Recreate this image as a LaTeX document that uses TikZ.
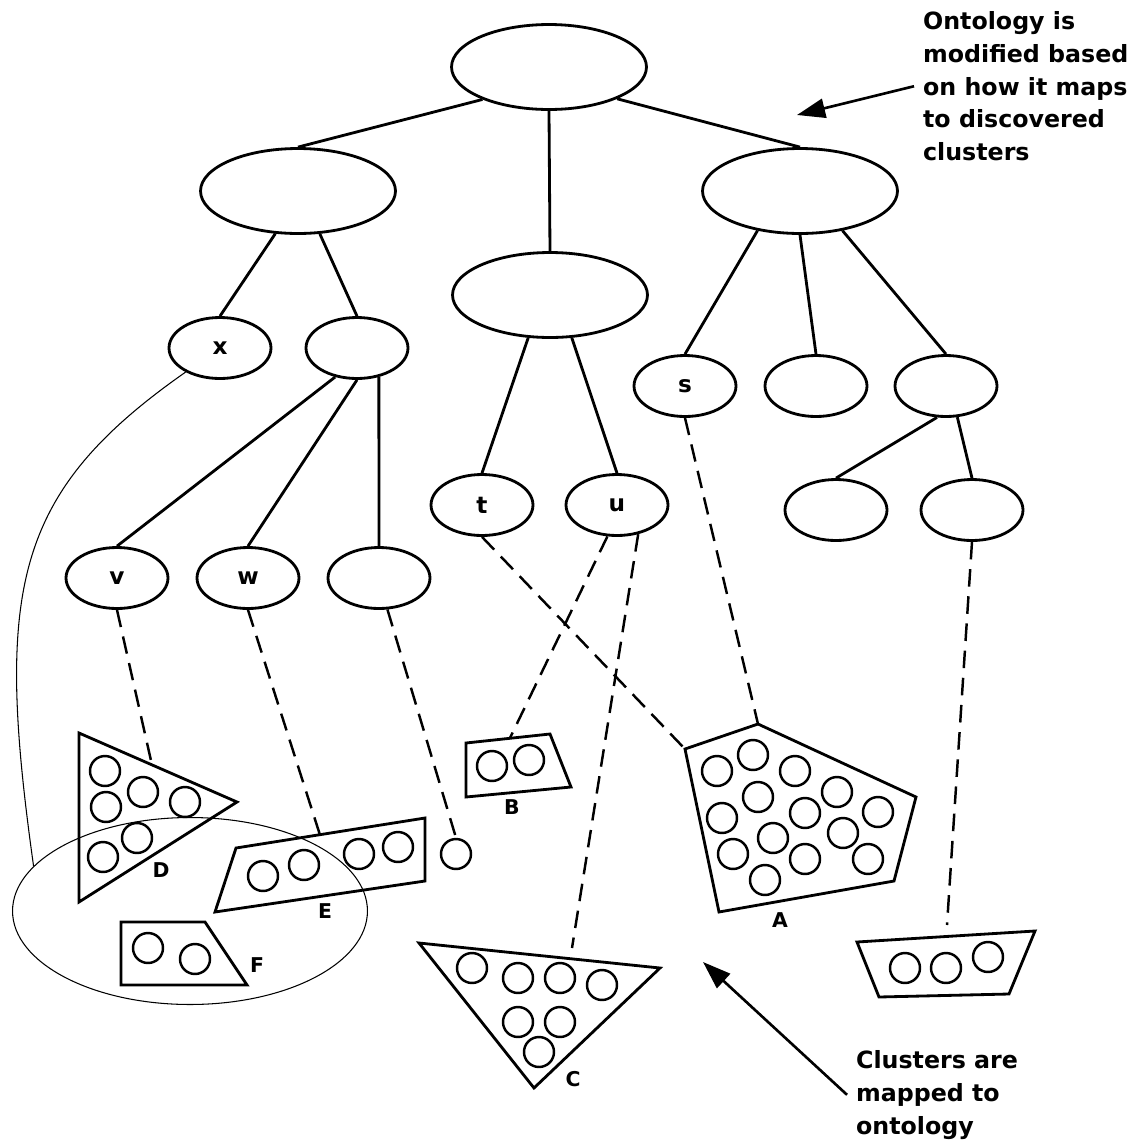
\documentclass[tikz,border=0pt]{standalone}
\usepackage{fontspec}
\setmainfont{DejaVu Sans}
\usetikzlibrary{arrows.meta,shapes.geometric}

\begin{document}
\begin{tikzpicture}[
        x=0.02cm,
        y=-0.02cm,
        concept/.style={
            ellipse,
            draw,
            line width=1.6pt,
            inner sep=0pt,
            minimum width=3.9cm,
            minimum height=1.7cm
        },
        term/.style={
            ellipse,
            draw,
            line width=1.6pt,
            inner sep=0pt,
            minimum width=2.04cm,
            minimum height=1.22cm,
            font=\fontsize{13.2}{15}\selectfont\bfseries
        },
        member/.style={
            circle,
            draw,
            line width=1.4pt,
            inner sep=0pt,
            minimum size=0.6cm
        },
        tag/.style={
            inner sep=0pt,
            font=\fontsize{11.6}{13}\selectfont\bfseries
        },
        note/.style={
            align=left,
            anchor=north west,
            inner xsep=5pt,
            inner ysep=0pt,
            font=\fontsize{13.5}{18.7}\selectfont\bfseries
        },
        link/.style={
            line width=1.6pt
        },
        map/.style={
            line width=1.4pt,
            dash pattern=on 10pt off 5.5pt
        },
        cluster/.style={
            draw,
            line width=1.6pt
        },
        pointer/.style={
            -{Triangle[length=16pt,width=11pt]},
            line width=1.5pt
        },
        thinline/.style={
            line width=0.6pt
        }
    ]

        \useasboundingbox (0,0) rectangle (1135,1147);

        \node[concept] (root) at (549,67) {};
        \node[concept] (left) at (298,191) {};
        \node[concept] (mid) at (550,295) {};
        \node[concept] (right) at (800,191) {};

        \node[term] (x) at (220,348) {x};
        \node[term] (lsub) at (357,348) {};
        \node[term] (t) at (482,505) {t};
        \node[term] (u) at (617,505) {u};
        \node[term] (s) at (685,386) {s};
        \node[term] (rmid) at (816,386) {};
        \node[term] (rsub) at (946,386) {};
        \node[term] (rsubl) at (836,510) {};
        \node[term] (rsubr) at (972,510) {};
        \node[term] (v) at (117,578) {v};
        \node[term] (w) at (248,578) {w};
        \node[term] (lsubr) at (379,578) {};

        \draw[link] (root.-154) -- (left.north);
        \draw[link] (root.south) -- (mid.north);
        \draw[link] (root.-25) -- (right.north);
        \draw[link] (left.-118) -- (x.north);
        \draw[link] (left.-63) -- (lsub.north);
        \draw[link] (lsub.-127) -- (v.north);
        \draw[link] (lsub.south) -- (w.north);
        \draw[link] (lsub.-53) -- (lsubr.north);
        \draw[link] (mid.-117) -- (t.north);
        \draw[link] (mid.-63) -- (u.north);
        \draw[link] (right.-137) -- (s.north);
        \draw[link] (right.south) -- (rmid.north);
        \draw[link] (right.-43) -- (rsub.north);
        \draw[link] (rsub.-106) -- (rsubl.north);
        \draw[link] (rsub.-70) -- (rsubr.north);

        \coordinate (D1) at (79,733);
        \coordinate (D2) at (237,802);
        \coordinate (D3) at (79,902);
        \coordinate (E1) at (236,848);
        \coordinate (E2) at (425,818);
        \coordinate (E3) at (425,881);
        \coordinate (E4) at (215,912);
        \coordinate (F1) at (121,922);
        \coordinate (F2) at (205,922);
        \coordinate (F3) at (247,985);
        \coordinate (F4) at (121,985);
        \coordinate (B1) at (466,743);
        \coordinate (B2) at (550,734);
        \coordinate (B3) at (571,787);
        \coordinate (B4) at (466,797);
        \coordinate (A1) at (685,749);
        \coordinate (A2) at (758,724);
        \coordinate (A3) at (916,797);
        \coordinate (A4) at (894,881);
        \coordinate (A5) at (719,912);
        \coordinate (C1) at (419,943);
        \coordinate (C2) at (660,968);
        \coordinate (C3) at (534,1088);
        \coordinate (R1) at (857,942);
        \coordinate (R2) at (1035,931);
        \coordinate (R3) at (1009,994);
        \coordinate (R4) at (879,997);

        \draw[cluster] (D1) -- (D2) -- (D3) -- cycle;
        \draw[cluster] (E1) -- (E2) -- (E3) -- (E4) -- cycle;
        \draw[cluster] (F1) -- (F2) -- (F3) -- (F4) -- cycle;
        \draw[cluster] (B1) -- (B2) -- (B3) -- (B4) -- cycle;
        \draw[cluster] (A1) -- (A2) -- (A3) -- (A4) -- (A5) -- cycle;
        \draw[cluster] (C1) -- (C2) -- (C3) -- cycle;
        \draw[cluster] (R1) -- (R2) -- (R3) -- (R4) -- cycle;

        \foreach \px/\py [count=\i] in {105/771, 143/792, 185/802, 106/807, 137/838, 103/857}
            \node[member] (d\i) at (\px,\py) {};
        \foreach \px/\py [count=\i] in {263/876, 304/865, 359/854, 398/847}
            \node[member] (e\i) at (\px,\py) {};
        \foreach \px/\py [count=\i] in {148/948, 195/959}
            \node[member] (f\i) at (\px,\py) {};
        \foreach \px/\py [count=\i] in {492/766, 529/760}
            \node[member] (b\i) at (\px,\py) {};
        \foreach \px/\py [count=\i] in {717/771, 753/755, 795/771, 758/797, 837/792, 722/818, 805/813,
                                        878/812, 773/838, 843/833, 733/854, 805/859, 868/859, 765/880}
            \node[member] (a\i) at (\px,\py) {};
        \foreach \px/\py [count=\i] in {472/968, 518/978, 560/978, 602/985, 518/1022, 560/1022, 539/1052}
            \node[member] (c\i) at (\px,\py) {};
        \foreach \px/\py [count=\i] in {905/968, 946/968, 988/957}
            \node[member] (r\i) at (\px,\py) {};

        \node[member] (lone) at (456,854) {};

        \node[tag] (labD) at (161,870) {D};
        \node[tag] (labE) at (325,911) {E};
        \node[tag] (labF) at (257,965) {F};
        \node[tag] (labB) at (512,807) {B};
        \node[tag] (labA) at (780,920) {A};
        \node[tag] (labC) at (573,1079) {C};

        \node[ellipse, draw, thinline, inner sep=0pt, minimum width=7.1cm, minimum height=3.74cm] (group) at (190,911) {};

        \coordinate (Dtop) at (152,765);
        \coordinate (Etop) at (320,835);
        \coordinate (Btop) at (510,738);
        \coordinate (Ctop) at (572,948);
        \coordinate (Rtop) at (947,925);

        \draw[map] (v.south) -- (Dtop);
        \draw[map] (w.south) -- (Etop);
        \draw[map] (lsubr.-75) -- (lone.north);
        \draw[map] (t.south) -- (A1);
        \draw[map] (u.-107) -- (Btop);
        \draw[map] (u.-54) -- (Ctop);
        \draw[map] (s.south) -- (A2);
        \draw[map] (rsubr.south) -- (Rtop);

        \draw[thinline] (x.-145) to[out=215, in=98, out distance=4.2cm, in distance=5.6cm] (group.164);

        \node[note] (topnote) at (914,11) {Ontology is\\modified based\\on how it maps\\to discovered\\clusters};
        \node[note] (botnote) at (847,1050) {Clusters are\\mapped to\\ontology};

        \coordinate (topTip) at (797,115);
        \coordinate (botTip) at (703,962);

        \draw[pointer] (topnote.west) -- (topTip);
        \draw[pointer] (botnote.west) -- (botTip);

    \end{tikzpicture}
\end{document}
